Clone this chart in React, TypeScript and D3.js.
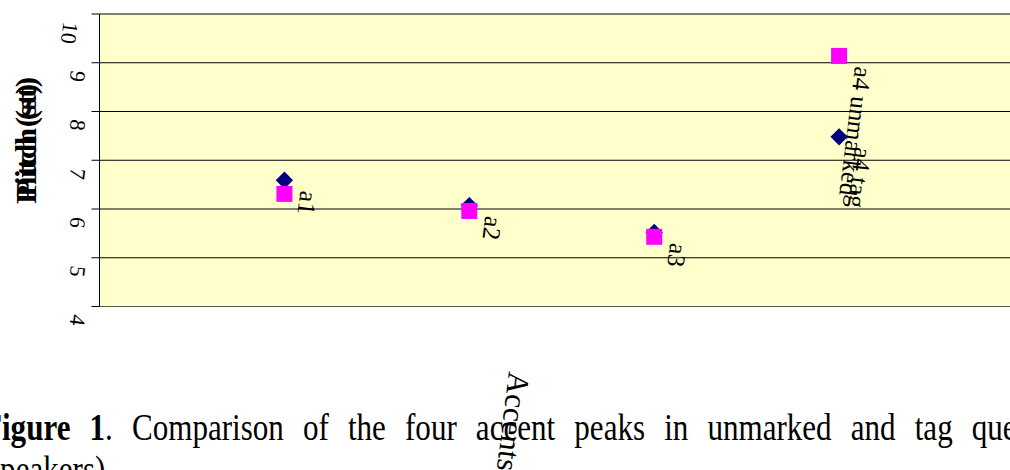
import React from 'react';
import * as d3 from 'd3';

// chart data
const categories = ['a1', 'a2', 'a3', 'a4'];
const xPositions = [1, 2, 3, 4];
const unmarkedPitch = [6.59, 6.07, 5.52, 7.48];
const tagPitch = [6.31, 5.96, 5.43, 9.14];
const unmarkedLabels = ['a1', 'a2', 'a3', 'a4 tag'];
const tagLabels = ['', '', '', 'a4 unmarked'];
const yTicks = [4, 5, 6, 7, 8, 9, 10];
const yTickLabels = ['4', '5', '6', '7', '8', '9', '10'];

const yTitle = 'Pitch (st)';
const xTitle = 'Accents';
const captionBold = 'Figure 1';
const captionRest = '. Comparison of the four accent peaks in unmarked and tag questions (';
const captionLine2 = 'speakers)';

const serif = '"Liberation Serif", "Times New Roman", serif';
const tilt = 97;

const App = () => {
  const width = 1010;
  const height = 470;

  // plot area (it runs off the right edge of the picture)
  const left = 99.5;
  const top = 14;
  const bottom = 306.5;
  const right = left + 5 * 184.9;

  const x = d3.scaleLinear().domain([0, 5]).range([left, right]);
  const y = d3.scaleLinear().domain([4, 10]).range([bottom, top]);

  const square = d3.symbol(d3.symbolSquare, 256)();
  const diamond = d3.symbol(d3.symbolSquare, 150)();

  const unmarked = categories.map((c, i) => ({ c, x: xPositions[i], v: unmarkedPitch[i], label: unmarkedLabels[i] }));
  const tag = categories.map((c, i) => ({ c, x: xPositions[i], v: tagPitch[i], label: tagLabels[i] }));

  const tickFont = 22;

  return (
    <svg
      width={width}
      height={height}
      style={{ position: 'absolute', left: 0, top: 0, display: 'block', background: '#fff' }}
      fontFamily={serif}
    >
      {/* plot background */}
      <rect x={left} y={top} width={right - left} height={bottom - top} fill="#FFFFCC" />

      {/* gridlines and ticks */}
      {yTicks.map((t) => (
        <g key={t}>
          <line x1={left} x2={right} y1={y(t)} y2={y(t)} stroke={t === 4 ? '#555' : '#000'} strokeWidth={1} />
          <line x1={left - 8} x2={left} y1={y(t)} y2={y(t)} stroke="#000" strokeWidth={1} />
        </g>
      ))}
      <line x1={left} x2={left} y1={top} y2={bottom} stroke="#000" strokeWidth={1} />

      {/* tick labels */}
      {yTicks.map((t, i) => {
        const lab = yTickLabels[i];
        const w = lab.length * 0.5 * tickFont;
        const cx = 86 - 0.75 * w;
        const cy = y(t) + 8 + w / 2;
        return (
          <text
            key={t}
            x={cx}
            y={cy}
            fontSize={tickFont}
            textAnchor="middle"
            dominantBaseline="central"
            transform={`rotate(${tilt}, ${cx}, ${cy})`}
          >
            {lab}
          </text>
        );
      })}

      {/* y axis title, printed twice over itself */}
      {[137, 144].map((cy, i) => (
        <text
          key={i}
          x={0}
          y={0}
          fontSize={30}
          fontWeight="bold"
          textAnchor="middle"
          textLength={120}
          lengthAdjust="spacingAndGlyphs"
          transform={`translate(36, ${cy}) rotate(-90)`}
        >
          {yTitle}
        </text>
      ))}

      {/* unmarked series: navy diamonds */}
      {unmarked.map((d) => (
        <path
          key={'u' + d.c}
          d={diamond}
          fill="#000080"
          transform={`translate(${x(d.x)}, ${y(d.v)}) rotate(45)`}
        />
      ))}

      {/* tag series: magenta squares */}
      {tag.map((d) => (
        <path key={'t' + d.c} d={square} fill="#FF00FF" transform={`translate(${x(d.x)}, ${y(d.v)})`} />
      ))}

      {/* data labels */}
      {[...unmarked, ...tag]
        .filter((d) => d.label)
        .map((d, i) => {
          const lx = x(d.x) + 16;
          const ly = y(d.v) + 10;
          return (
            <text key={i} x={lx} y={ly} fontSize={25} transform={`rotate(${tilt}, ${lx}, ${ly})`}>
              {d.label}
            </text>
          );
        })}

      {/* caption */}
      <g transform="translate(-17, 440) scale(0.84, 1)">
        <text x={0} y={0} fontSize={37} wordSpacing={13.5} style={{ whiteSpace: 'pre' }}>
          <tspan fontWeight="bold">{captionBold}</tspan>
          {captionRest}
        </text>
      </g>
      <g transform="translate(-12, 482) scale(0.84, 1)">
        <text x={0} y={0} fontSize={37}>
          {captionLine2}
        </text>
      </g>

      {/* x axis title */}
      <text x={509} y={371} fontSize={31} transform={`rotate(${tilt}, 509, 371)`}>
        {xTitle}
      </text>
    </svg>
  );
};

export default App;
